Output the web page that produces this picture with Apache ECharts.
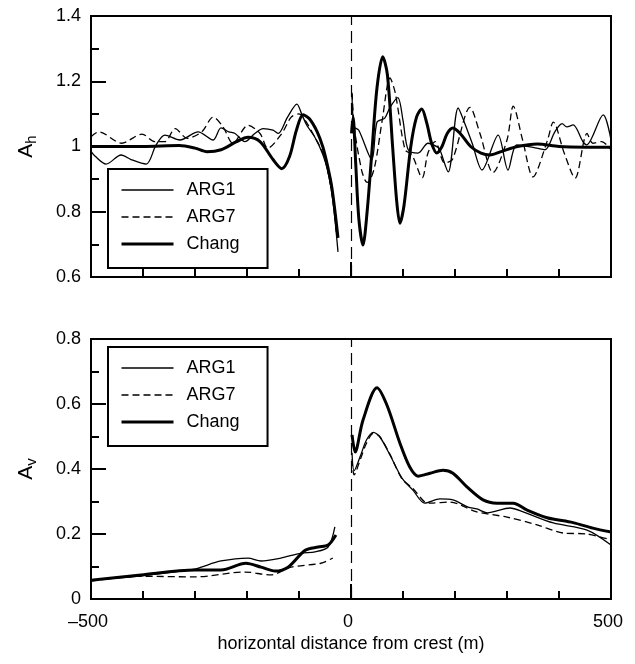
<!DOCTYPE html>
<html>
<head>
<meta charset="utf-8">
<script src="https://cdn.jsdelivr.net/npm/echarts@6/dist/echarts.min.js"></script>
<style>
  html, body { margin: 0; padding: 0; background: #fff; }
  #chart { width: 635px; height: 664px; }
</style>
</head>
<body>
<div id="chart"></div>
<script>
// x = horizontal distance from crest (m), y = amplification
// upper panel: A_h
var ahArg1Left = [[-500,0.985],[-492,0.97],[-471,0.946],[-442,0.974],[-423,0.96],[-394,0.946],[-375,1.004],[-358,1.035],[-329,1.02],[-294,1.045],[-265,1.02],[-250,1.057],[-235,1.045],[-223,1.04],[-204,1.015],[-185,1.04],[-169,1.055],[-150,1.05],[-140,1.04],[-122,1.09],[-104,1.13],[-95,1.1],[-85,1.065],[-70,1.03],[-54,0.975],[-44,0.92],[-35,0.836],[-25,0.677]];
var ahArg1Right = [[2,1.16],[6,1.06],[15,1.05],[40,0.96],[50,1.075],[65,1.087],[75,1.12],[90,1.15],[100,1.08],[110,0.99],[129,0.98],[148,1.01],[167,0.998],[171,0.99],[187,0.922],[206,1.118],[219,1.07],[233,1.01],[252,0.928],[283,1.035],[302,0.928],[319,1.005],[354,0.996],[373,0.99],[392,1.045],[406,1.07],[415,1.06],[427,1.066],[446,1.015],[453,1.005],[485,1.097],[500,1.02]];
var ahArg7Left = [[-500,1.03],[-485,1.045],[-441,1.01],[-402,1.038],[-377,1.015],[-358,1.015],[-338,1.055],[-315,1.025],[-287,1.045],[-265,1.09],[-246,1.06],[-227,1.01],[-198,1.065],[-175,1.04],[-160,0.995],[-133,1.04],[-115,1.09],[-100,1.1],[-88,1.08],[-70,1.03],[-54,0.98],[-44,0.92],[-35,0.84],[-27,0.72]];
var ahArg7Right = [[2,1.165],[7,1.05],[20,0.93],[27,0.897],[32,0.89],[45,0.935],[60,1.08],[75,1.21],[85,1.165],[104,0.99],[117,0.975],[137,0.904],[148,0.98],[162,1.015],[180,0.95],[195,0.96],[229,1.12],[248,1.04],[273,0.92],[300,1.02],[312,1.124],[330,1.02],[350,0.907],[378,1.02],[389,1.075],[410,0.98],[431,0.903],[454,1.04],[465,1.01],[482,1.015],[500,0.99]];
var ahChangLeft = [[-500,1.0],[-400,1.0],[-330,1.003],[-300,0.995],[-277,0.984],[-250,0.99],[-220,1.015],[-198,1.028],[-175,1.015],[-150,0.96],[-133,0.932],[-118,0.97],[-105,1.05],[-92,1.097],[-80,1.085],[-65,1.045],[-54,0.998],[-45,0.94],[-37,0.876],[-30,0.79],[-25,0.72]];
var ahChangRight = [[1,1.04],[4,1.09],[9,0.95],[15,0.78],[23,0.698],[31,0.8],[40,0.98],[50,1.18],[61,1.275],[70,1.22],[80,1.0],[88,0.83],[94,0.765],[102,0.82],[115,1.0],[126,1.09],[136,1.115],[146,1.07],[155,1.01],[165,0.98],[175,1.0],[185,1.04],[196,1.057],[210,1.04],[230,1.0],[250,0.98],[267,0.974],[290,0.985],[320,1.0],[358,1.008],[400,1.0],[450,0.998],[500,0.998]];

// lower panel: A_v
var avArg1Left = [[-500,0.058],[-400,0.072],[-300,0.092],[-288,0.098],[-250,0.117],[-198,0.126],[-173,0.117],[-135,0.126],[-96,0.141],[-69,0.145],[-44,0.16],[-31,0.222]];
var avArg1Right = [[2,0.45],[6,0.395],[18,0.44],[30,0.49],[43,0.513],[55,0.5],[75,0.443],[98,0.372],[119,0.335],[142,0.295],[171,0.308],[196,0.305],[225,0.283],[242,0.277],[262,0.265],[306,0.28],[331,0.268],[389,0.234],[454,0.212],[500,0.166]];
var avArg7Left = [[-500,0.055],[-404,0.07],[-300,0.068],[-204,0.083],[-154,0.074],[-115,0.098],[-58,0.11],[-35,0.126]];
var avArg7Right = [[2,0.43],[6,0.382],[18,0.43],[30,0.48],[43,0.51],[55,0.5],[75,0.445],[98,0.37],[119,0.34],[142,0.298],[152,0.295],[190,0.298],[242,0.268],[300,0.252],[358,0.228],[408,0.203],[454,0.2],[500,0.182]];
var avChangLeft = [[-500,0.058],[-404,0.074],[-300,0.089],[-250,0.089],[-202,0.11],[-173,0.098],[-146,0.086],[-121,0.098],[-88,0.15],[-63,0.16],[-44,0.166],[-29,0.197]];
var avChangRight = [[2,0.505],[8,0.452],[23,0.55],[50,0.65],[69,0.597],[94,0.48],[113,0.406],[129,0.378],[152,0.387],[177,0.396],[196,0.387],[223,0.345],[254,0.305],[281,0.295],[312,0.295],[338,0.274],[377,0.25],[427,0.235],[465,0.218],[500,0.206]];

var legendNames = ["ARG1", "ARG7", "Chang"];
var FONT = "Liberation Sans, Arial, sans-serif";

var styles = {
    ARG1: { color: "#000", width: 1.3, type: "solid" },
    ARG7: { color: "#000", width: 1.3, type: [7, 4] },
    Chang: { color: "#000", width: 3, type: "solid" }
};

function makeLine(name, data, idx) {
    return {
        name: name,
        type: "line",
        xAxisIndex: idx,
        yAxisIndex: idx,
        data: data,
        symbol: "none",
        smooth: 0.3,
        lineStyle: styles[name],
        itemStyle: { color: "#000" },
        z: name == "Chang" ? 3 : 2
    };
}

function crestLine(idx) {
    return {
        type: "line",
        xAxisIndex: idx,
        yAxisIndex: idx,
        data: [],
        markLine: {
            silent: true,
            symbol: ["none", "none"],
            label: { show: false },
            lineStyle: { color: "#000", width: 1.2, type: [12, 6] },
            data: [{ xAxis: 0 }]
        }
    };
}

function xAxisOpt(idx, showLabel) {
    return {
        type: "value",
        gridIndex: idx,
        min: -500,
        max: 500,
        interval: 500,
        name: showLabel ? "horizontal distance from crest (m)" : "",
        nameLocation: "middle",
        nameGap: 36,
        nameTextStyle: { fontSize: 18, color: "#000", fontFamily: FONT },
        axisLine: { onZero: false, lineStyle: { color: "#000", width: 2 } },
        axisTick: { inside: true, length: 15, lineStyle: { color: "#000", width: 2 } },
        minorTick: { show: true, splitNumber: 5, length: 8, lineStyle: { color: "#000", width: 2 } },
        splitLine: { show: false },
        axisLabel: {
            show: showLabel,
            fontSize: 18,
            color: "#000",
            fontFamily: FONT,
            margin: 14,
            padding: [0, 6, 0, 0],
            formatter: function (v) { return v < 0 ? "\u2013" + Math.abs(v) : String(v); }
        }
    };
}

function yAxisOpt(idx, min, max, sub) {
    return {
        type: "value",
        gridIndex: idx,
        min: min,
        max: max,
        interval: 0.2,
        name: "{a|A}{s|" + sub + "}",
        nameLocation: "middle",
        nameRotate: 90,
        nameGap: 52,
        nameTextStyle: {
            color: "#000",
            rich: {
                a: { fontSize: 21, fontFamily: FONT, color: "#000" },
                s: { fontSize: 15, fontFamily: FONT, color: "#000", padding: [10, 0, 0, 0] }
            }
        },
        axisLine: { onZero: false, lineStyle: { color: "#000", width: 2 } },
        axisTick: { inside: true, length: 15, lineStyle: { color: "#000", width: 2 } },
        minorTick: { show: true, splitNumber: 2, length: 8, lineStyle: { color: "#000", width: 2 } },
        splitLine: { show: false },
        axisLabel: {
            fontSize: 18,
            color: "#000",
            fontFamily: FONT,
            margin: 10,
            formatter: function (v) { return String(Math.round(v * 10) / 10); }
        }
    };
}

function legendOpt(top) {
    var items = legendNames.map(function (n) {
        return { name: n, lineStyle: styles[n], itemStyle: { opacity: 0 } };
    });
    return {
        data: items,
        orient: "vertical",
        left: 108,
        top: top,
        itemWidth: 52,
        itemHeight: 14,
        itemGap: 9,
        padding: [12, 28, 15, 12],
        borderColor: "#000",
        borderWidth: 2,
        backgroundColor: "#fff",
        selectedMode: false,
        itemStyle: { opacity: 0 },
        textStyle: { fontSize: 18, color: "#000", fontFamily: FONT, padding: [0, 0, 0, 8] }
    };
}

var option = {
    animation: false,
    backgroundColor: "#fff",
    textStyle: { fontFamily: FONT },
    grid: [
        { left: 91, top: 16, width: 520, height: 261, show: true, borderColor: "#000", borderWidth: 2 },
        { left: 91, top: 339, width: 520, height: 260, show: true, borderColor: "#000", borderWidth: 2 }
    ],
    legend: [legendOpt(169), legendOpt(347)],
    xAxis: [xAxisOpt(0, false), xAxisOpt(1, true)],
    yAxis: [yAxisOpt(0, 0.6, 1.4, "h"), yAxisOpt(1, 0, 0.8, "v")],
    series: [
        crestLine(0),
        crestLine(1),
        makeLine("ARG1", ahArg1Left, 0),
        makeLine("ARG1", ahArg1Right, 0),
        makeLine("ARG7", ahArg7Left, 0),
        makeLine("ARG7", ahArg7Right, 0),
        makeLine("Chang", ahChangLeft, 0),
        makeLine("Chang", ahChangRight, 0),
        makeLine("ARG1", avArg1Left, 1),
        makeLine("ARG1", avArg1Right, 1),
        makeLine("ARG7", avArg7Left, 1),
        makeLine("ARG7", avArg7Right, 1),
        makeLine("Chang", avChangLeft, 1),
        makeLine("Chang", avChangRight, 1)
    ]
};

var myChart = echarts.init(document.getElementById("chart"));
myChart.setOption(option);
</script>
</body>
</html>
